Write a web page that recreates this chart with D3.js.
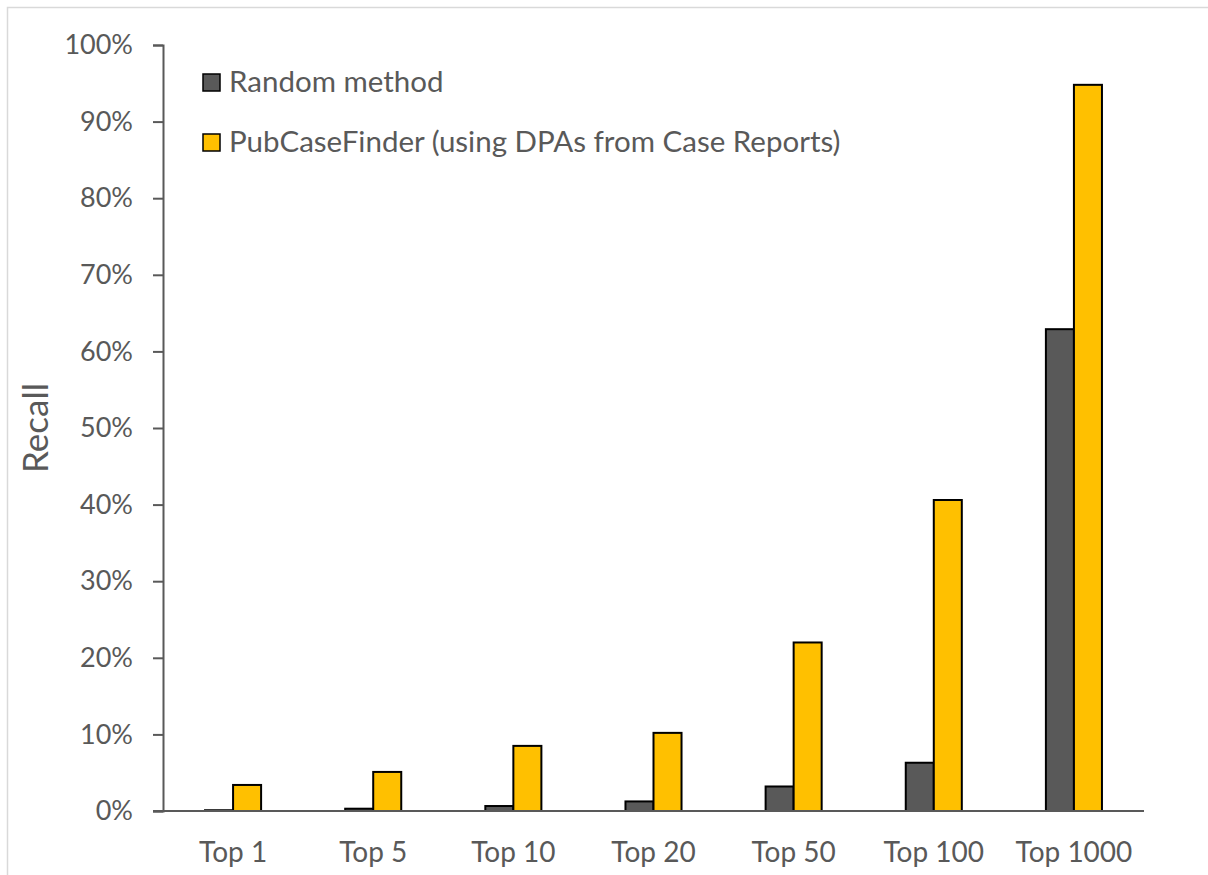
<!DOCTYPE html>
<html>
<head>
<meta charset="utf-8">
<script src="https://cdn.jsdelivr.net/npm/d3@7"></script>
<style>
  html, body { margin: 0; padding: 0; background: #fff; }
  svg { display: block; }
  text { font-family: Lato, "Open Sans", sans-serif; fill: #595959; }
</style>
</head>
<body>
<svg id="chart" width="1208" height="875"></svg>
<script>
// Recall at each cutoff
const categories = ["Top 1", "Top 5", "Top 10", "Top 20", "Top 50", "Top 100", "Top 1000"];
const seriesNames = ["Random method", "PubCaseFinder (using DPAs from Case Reports)"];
const randomValues = [0.1, 0.3, 0.65, 1.25, 3.2, 6.3, 62.9];
const pcfValues = [3.4, 5.1, 8.5, 10.2, 22.0, 40.6, 94.8];
const yTicks = [0, 10, 20, 30, 40, 50, 60, 70, 80, 90, 100];
const colors = ["#595959", "#FFC000"];

const svg = d3.select("#chart");
const plotLeft = 163, plotRight = 1144, plotTop = 45, plotBottom = 811;

// chart area border
svg.append("rect")
  .attr("x", 7.5).attr("y", 7.5).attr("width", 1400).attr("height", 1000)
  .attr("fill", "none").attr("stroke", "#d9d9d9").attr("stroke-width", 1.5);

const x = d3.scaleBand().domain(categories).range([plotLeft, plotRight])
  .paddingInner(0.6).paddingOuter(0.3);
const xs = d3.scaleBand().domain([0, 1]).range([0, x.bandwidth()]);
const y = d3.scaleLinear().domain([0, 100]).range([plotBottom, plotTop]);

// y axis
const yAxis = d3.axisLeft(y).tickValues(yTicks).tickSize(10).tickPadding(20)
  .tickFormat(d => d + "%");
const gy = svg.append("g").attr("transform", `translate(${plotLeft},0)`).call(yAxis);
gy.select(".domain").attr("stroke", "#595959").attr("stroke-width", 2);
gy.selectAll(".tick line").attr("stroke", "#595959").attr("stroke-width", 2);
gy.selectAll(".tick text").attr("font-size", 27).attr("fill", "#595959")
  .style("font-family", "Lato, sans-serif");

// bars
const data = categories.map((c, i) => ({ c, vals: [randomValues[i], pcfValues[i]] }));
const groups = svg.append("g").selectAll("g").data(data).join("g")
  .attr("transform", d => `translate(${x(d.c)},0)`);
groups.selectAll("rect").data(d => d.vals.map((v, k) => ({ v, k }))).join("rect")
  .attr("x", d => xs(d.k))
  .attr("width", xs.bandwidth())
  .attr("y", d => y(d.v))
  .attr("height", d => plotBottom - y(d.v))
  .attr("fill", d => colors[d.k])
  .attr("stroke", "#000").attr("stroke-width", 2);

// x axis
const xAxis = d3.axisBottom(x).tickSize(0).tickPadding(31);
const gx = svg.append("g").attr("transform", `translate(0,${plotBottom})`).call(xAxis);
gx.select(".domain").attr("d", `M${plotLeft - 10},0H${plotRight}`)
  .attr("stroke", "#595959").attr("stroke-width", 2);
gx.selectAll(".tick text").attr("font-size", 28).attr("fill", "#595959")
  .style("font-family", "Lato, sans-serif");

// axis title
svg.append("text")
  .attr("transform", `translate(48,${(plotTop + plotBottom) / 2}) rotate(-90)`)
  .attr("text-anchor", "middle")
  .attr("font-size", 35)
  .text("Recall");

// legend
const legend = svg.append("g").attr("transform", "translate(203,74)");
seriesNames.forEach((name, i) => {
  const g = legend.append("g").attr("transform", `translate(0,${i * 60})`);
  g.append("rect").attr("width", 17).attr("height", 17)
    .attr("fill", colors[i]).attr("stroke", "#000").attr("stroke-width", 1.5);
  g.append("text").attr("x", 26).attr("y", 18).attr("font-size", 29.5).text(name);
});
</script>
</body>
</html>
